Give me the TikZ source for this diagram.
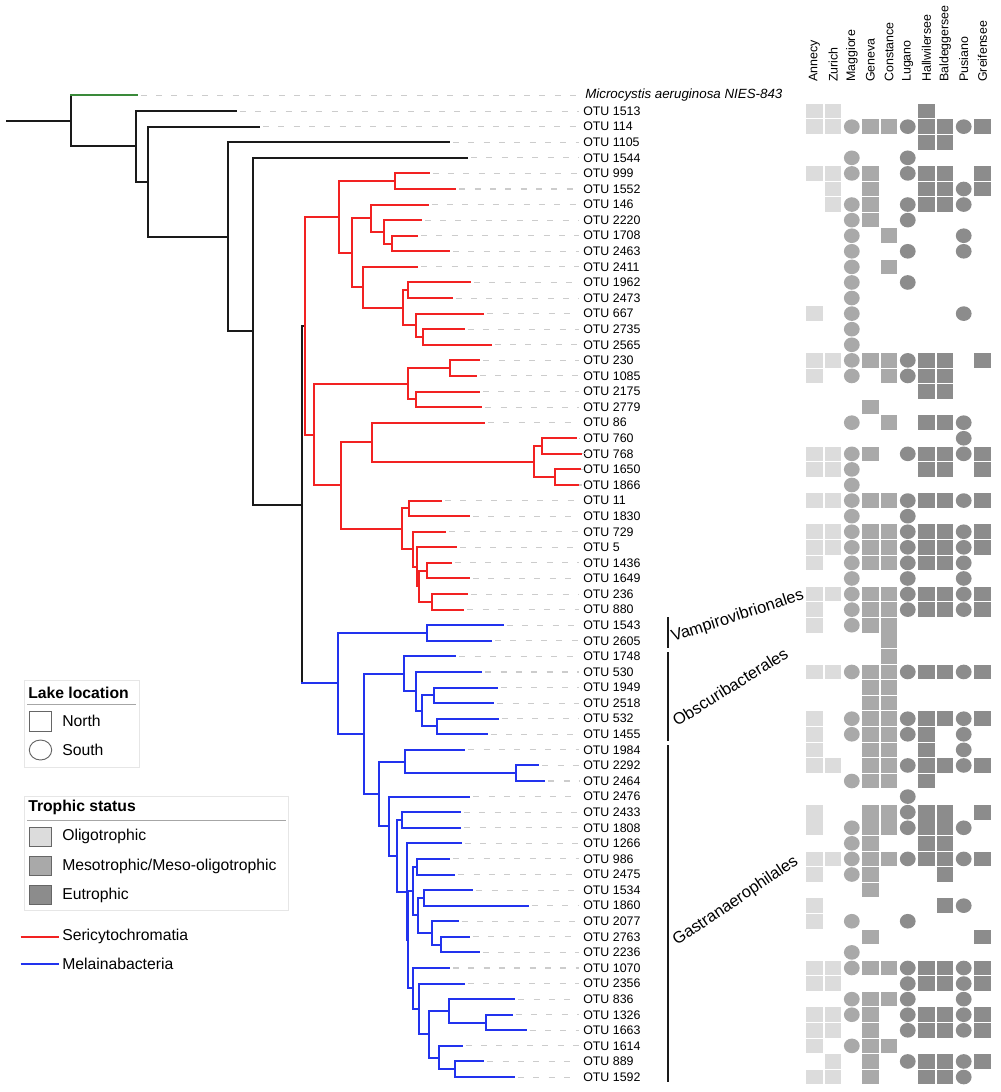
\documentclass[tikz,border=0pt]{standalone}
\usepackage{fontspec}
\setmainfont{Liberation Sans}
\definecolor{cred}{HTML}{F22222}
\definecolor{cblue}{HTML}{2233EE}
\definecolor{cgreen}{HTML}{3A8A3A}
\definecolor{cblk}{HTML}{1A1A1A}
\definecolor{clight}{HTML}{DCDCDC}
\definecolor{cmid}{HTML}{A9A9A9}
\definecolor{cdark}{HTML}{8C8C8C}
\definecolor{cdash}{HTML}{CCCCCC}
\definecolor{cframe}{HTML}{E6E6E6}
\tikzset{
  br/.style={line width=1.5pt, line cap=rect},
  dsh/.style={cdash, line width=0.8pt, dash pattern=on 4.5pt off 7pt},
  lab/.style={anchor=west, inner sep=0pt, font=\fontsize{9.3}{11}\selectfont},
  hdr/.style={rotate=90, anchor=west, inner sep=0pt, font=\fontsize{9.3}{11}\selectfont},
  leg/.style={anchor=west, inner sep=0pt, font=\fontsize{11.8}{14}\selectfont},
  legt/.style={anchor=west, inner sep=0pt, font=\fontsize{11.8}{14}\selectfont\bfseries},
  cladetxt/.style={anchor=base west, inner sep=0pt, font=\fontsize{12.3}{15}\selectfont},
  cladebar/.style={line width=1.7pt, cblk},
}
% parent colour, parent, child1, colour1, child2, colour2
\newcommand\cla[6]{%
  \draw[br,#1] (#2 |- #3) -- (#2 |- #5);
  \draw[br,#4] (#2 |- #3) -- (#3);
  \draw[br,#6] (#2 |- #5) -- (#5);
}
\newcommand\mysq[2]{\fill[#1] (\mx-8.3,#2-0.47) rectangle (\mx+8.3,#2+0.47);}
\newcommand\myci[2]{\fill[#1] (\mx,#2) ellipse [x radius=7.9, y radius=0.47];}
\newcommand\mcell[2]{%
  \pgfmathsetmacro\mx{814.5+18.65*#1}%
  \ifcase#1 \mysq{clight}{#2}\or \mysq{clight}{#2}\or \myci{cmid}{#2}\or \mysq{cmid}{#2}\or \mysq{cmid}{#2}\or \myci{cdark}{#2}\or \mysq{cdark}{#2}\or \mysq{cdark}{#2}\or \myci{cdark}{#2}\or \mysq{cdark}{#2}\fi
}
\begin{document}
\begin{tikzpicture}[x=0.75pt, y=-11.685pt]
% ---- px scope: bounding box, header, legend
\begin{scope}[yshift=71.625pt, y=-0.75pt]
  \useasboundingbox (0,0) rectangle (1000,1092);
  \foreach \xx/\nm in {814.5/Annecy, 833.15/Zurich, 851.8/Maggiore, 870.45/Geneva, 889.1/Constance, 907.75/Lugano, 926.4/Hallwilersee, 945.05/Baldeggersee, 963.7/Pusiano, 982.35/Greifensee}
    \node[hdr] (h\nm) at (\xx,82) {\nm};
  % legend: lake location
  \draw[cframe, line width=0.6pt] (24,680) rectangle (139,767);
  \node[legt] (lt1) at (28,692.7) {Lake location};
  \draw[gray!70, line width=0.8pt] (27,704.3) -- (136,704.3);
  \draw[gray!80!black, line width=0.7pt] (29.3,711) rectangle (51.7,731);
  \node[leg] (ln) at (62,721) {North};
  \draw[gray!80!black, line width=0.7pt] (40.5,750) ellipse [x radius=11.2, y radius=10];
  \node[leg] (ls) at (62,750) {South};
  % legend: trophic status
  \draw[cframe, line width=0.6pt] (24,796.7) rectangle (288,910.7);
  \node[legt] (lt2) at (28,807.7) {Trophic status};
  \draw[gray!70, line width=0.8pt] (27,820.7) -- (285.7,820.7);
  \filldraw[fill=clight, draw=gray!80!black, line width=0.7pt] (29.3,827) rectangle (51.7,846.7);
  \filldraw[fill=cmid, draw=gray!80!black, line width=0.7pt] (29.3,856) rectangle (51.7,875.7);
  \filldraw[fill=cdark, draw=gray!80!black, line width=0.7pt] (29.3,885) rectangle (51.7,904.5);
  \node[leg] (lo) at (62,836.7) {Oligotrophic};
  \node[leg] (lm) at (62,866) {Mesotrophic/Meso-oligotrophic};
  \node[leg] (le) at (62,895) {Eutrophic};
  \draw[cred, line width=1.6pt] (20.7,936.7) -- (59.3,936.7);
  \node[leg] (lsr) at (62,936.7) {Sericytochromatia};
  \draw[cblue, line width=1.6pt] (20.7,964.3) -- (59.3,964.3);
  \node[leg] (lml) at (62,964.3) {Melainabacteria};
  % clade labels
  \draw[cladebar] (668,617) -- (668,648);
  \draw[cladebar] (668,652) -- (668,741);
  \draw[cladebar] (668,745) -- (668,1082);
  \node[cladetxt, rotate=18] (cv) at (673,642) {Vampirovibrionales};
  \node[cladetxt, rotate=32] (co) at (677,727) {Obscuribacterales};
  \node[cladetxt, rotate=34] (cg) at (677,946) {Gastranaerophilales};
\end{scope}

% ---- tree leaves (tip x, row)
\foreach \i/\tx in {0/136.8,1/235.7,2/259,3/449,4/467,5/428.6,6/455.4,7/427.5,8/420.7,9/417,10/449,11/417,12/470,13/451.8,14/483.2,15/463.6,16/490.7,17/479.3,18/476,19/479,20/481.3,21/484,22/576,23/581,24/580,25/578,26/441,27/469,28/445,29/455.7,30/450.7,31/469,32/466.7,33/463.3,34/502.7,35/491,36/455.3,37/481.3,38/496.7,39/493.3,40/497.7,41/486.7,42/464.3,43/538.3,44/544.3,45/469.3,46/460,47/460.3,48/461,49/449,50/454.3,51/472.3,52/527.7,53/457.7,54/468.7,55/479,56/449,57/463.7,58/514.3,59/511.7,60/525.7,61/461.7,62/483.3,63/514}
  \coordinate (l\i) at (\tx,\i);

% ---- internal nodes (x, row)
\coordinate (root) at (7,1.6331);
\coordinate (R0) at (71,1.6331);
\coordinate (N1) at (136,3.2662);
\coordinate (N2) at (148,5.5324);
\coordinate (N3) at (227.5,9.0648);
\coordinate (N4) at (253,15.1296);
\coordinate (N5) at (301.7,26.2593);
\coordinate (RR) at (305.4,14.78125);
\coordinate (A) at (338.6,7.796875);
\coordinate (A1) at (394.6,5.5);
\coordinate (A2) at (351.8,10.09375);
\coordinate (A21) at (371.4,7.875);
\coordinate (A211) at (384,8.75);
\coordinate (A2111) at (392,9.5);
\coordinate (A22) at (363.2,12.3125);
\coordinate (A221) at (402.9,13.625);
\coordinate (A2211) at (408.2,12.5);
\coordinate (A2212) at (416.4,14.75);
\coordinate (A22121) at (422.5,15.5);
\coordinate (B) at (314,21.765625);
\coordinate (B1) at (408,18.5);
\coordinate (B11) at (450.3,17.5);
\coordinate (B12) at (416,19.5);
\coordinate (B2) at (341,25.03125);
\coordinate (B21) at (372,22.25);
\coordinate (B211) at (534.3,23.5);
\coordinate (B2111) at (542.3,22.5);
\coordinate (B2112) at (554.7,24.5);
\coordinate (B22) at (402,27.8125);
\coordinate (B221) at (408.7,26.5);
\coordinate (B222) at (413.3,29.125);
\coordinate (B2221) at (417.3,30.25);
\coordinate (B22211) at (419.3,31.5);
\coordinate (B222111) at (426.7,30.5);
\coordinate (B222112) at (431.7,32.5);
\coordinate (BR) at (338.3,37.7373);
\coordinate (C1) at (427.3,34.5);
\coordinate (C2) at (364,40.9746);
\coordinate (C21) at (404.3,37.125);
\coordinate (C211) at (416,38.25);
\coordinate (C2111) at (422.3,39.5);
\coordinate (C21111) at (434,38.5);
\coordinate (C21112) at (436.7,40.5);
\coordinate (C22) at (379.3,44.8242);
\coordinate (C221) at (405.3,42.75);
\coordinate (C2211) at (516,43.5);
\coordinate (C222) at (388.7,46.8984);
\coordinate (C2222) at (396.7,48.7969);
\coordinate (C22221) at (401.7,46.5);
\coordinate (G) at (406.7,51.0938);
\coordinate (H) at (408.3,54.1875);
\coordinate (D) at (412.7,51.0625);
\coordinate (D1) at (416.7,49.5);
\coordinate (D12) at (418.3,52.625);
\coordinate (D2) at (424,51.5);
\coordinate (E) at (432.3,53.75);
\coordinate (E1) at (440.7,54.5);
\coordinate (F) at (413.3,57.3125);
\coordinate (F1) at (419.3,58.625);
\coordinate (F2) at (429,60.25);
\coordinate (F21) at (449,58.75);
\coordinate (F211) at (486,59.5);
\coordinate (F22) at (439,61.75);
\coordinate (F221) at (455,62.5);

% ---- leaf labels and dashed guides
\node[lab, font=\fontsize{10}{12}\selectfont\itshape] (t0) at (585,0) {Microcystis aeruginosa NIES-843};
\foreach \i/\t in {1/1513,2/114,3/1105,4/1544,5/999,6/1552,7/146,8/2220,9/1708,10/2463,11/2411,12/1962,13/2473,14/667,15/2735,16/2565,17/230,18/1085,19/2175,20/2779,21/86,22/760,23/768,24/1650,25/1866,26/11,27/1830,28/729,29/5,30/1436,31/1649,32/236,33/880,34/1543,35/2605,36/1748,37/530,38/1949,39/2518,40/532,41/1455,42/1984,43/2292,44/2464,45/2476,46/2433,47/1808,48/1266,49/986,50/2475,51/1534,52/1860,53/2077,54/2763,55/2236,56/1070,57/2356,58/836,59/1326,60/1663,61/1614,62/889,63/1592}
  \node[lab] (t\i) at (583,\i) {OTU \t};
\foreach \i in {0,...,63}
  \draw[dsh] ([xshift=3pt]l\i) -- ([xshift=-3pt]t\i.west);

% ---- branches
\draw[br,cblk] (root) -- (R0);
\cla{cblk}{R0}{l0}{cgreen}{N1}{cblk}
\cla{cblk}{N1}{l1}{cblk}{N2}{cblk}
\cla{cblk}{N2}{l2}{cblk}{N3}{cblk}
\cla{cblk}{N3}{l3}{cblk}{N4}{cblk}
\cla{cblk}{N4}{l4}{cblk}{N5}{cblk}
\cla{cblk}{N5}{RR}{cblk}{BR}{cblue}
\cla{cred}{RR}{A}{cred}{B}{cred}
\cla{cred}{A}{A1}{cred}{A2}{cred}
\cla{cred}{A1}{l5}{cred}{l6}{cred}
\cla{cred}{A2}{A21}{cred}{A22}{cred}
\cla{cred}{A21}{l7}{cred}{A211}{cred}
\cla{cred}{A211}{l8}{cred}{A2111}{cred}
\cla{cred}{A2111}{l9}{cred}{l10}{cred}
\cla{cred}{A22}{l11}{cred}{A221}{cred}
\cla{cred}{A221}{A2211}{cred}{A2212}{cred}
\cla{cred}{A2211}{l12}{cred}{l13}{cred}
\cla{cred}{A2212}{l14}{cred}{A22121}{cred}
\cla{cred}{A22121}{l15}{cred}{l16}{cred}
\cla{cred}{B}{B1}{cred}{B2}{cred}
\cla{cred}{B1}{B11}{cred}{B12}{cred}
\cla{cred}{B11}{l17}{cred}{l18}{cred}
\cla{cred}{B12}{l19}{cred}{l20}{cred}
\cla{cred}{B2}{B21}{cred}{B22}{cred}
\cla{cred}{B21}{l21}{cred}{B211}{cred}
\cla{cred}{B211}{B2111}{cred}{B2112}{cred}
\cla{cred}{B2111}{l22}{cred}{l23}{cred}
\cla{cred}{B2112}{l24}{cred}{l25}{cred}
\cla{cred}{B22}{B221}{cred}{B222}{cred}
\cla{cred}{B221}{l26}{cred}{l27}{cred}
\cla{cred}{B222}{l28}{cred}{B2221}{cred}
\cla{cred}{B2221}{l29}{cred}{B22211}{cred}
\cla{cred}{B22211}{B222111}{cred}{B222112}{cred}
\cla{cred}{B222111}{l30}{cred}{l31}{cred}
\cla{cred}{B222112}{l32}{cred}{l33}{cred}
\cla{cblue}{BR}{C1}{cblue}{C2}{cblue}
\cla{cblue}{C1}{l34}{cblue}{l35}{cblue}
\cla{cblue}{C2}{C21}{cblue}{C22}{cblue}
\cla{cblue}{C21}{l36}{cblue}{C211}{cblue}
\cla{cblue}{C211}{l37}{cblue}{C2111}{cblue}
\cla{cblue}{C2111}{C21111}{cblue}{C21112}{cblue}
\cla{cblue}{C21111}{l38}{cblue}{l39}{cblue}
\cla{cblue}{C21112}{l40}{cblue}{l41}{cblue}
\cla{cblue}{C22}{C221}{cblue}{C222}{cblue}
\cla{cblue}{C221}{l42}{cblue}{C2211}{cblue}
\cla{cblue}{C2211}{l43}{cblue}{l44}{cblue}
\cla{cblue}{C222}{l45}{cblue}{C2222}{cblue}
\cla{cblue}{C2222}{C22221}{cblue}{G}{cblue}
\cla{cblue}{C22221}{l46}{cblue}{l47}{cblue}
\cla{cblue}{G}{l48}{cblue}{H}{cblue}
\cla{cblue}{H}{D}{cblue}{F}{cblue}
\cla{cblue}{D}{D1}{cblue}{D12}{cblue}
\cla{cblue}{D1}{l49}{cblue}{l50}{cblue}
\cla{cblue}{D12}{D2}{cblue}{E}{cblue}
\cla{cblue}{D2}{l51}{cblue}{l52}{cblue}
\cla{cblue}{E}{l53}{cblue}{E1}{cblue}
\cla{cblue}{E1}{l54}{cblue}{l55}{cblue}
\cla{cblue}{F}{l56}{cblue}{F1}{cblue}
\cla{cblue}{F1}{l57}{cblue}{F2}{cblue}
\cla{cblue}{F2}{F21}{cblue}{F22}{cblue}
\cla{cblue}{F21}{l58}{cblue}{F211}{cblue}
\cla{cblue}{F211}{l59}{cblue}{l60}{cblue}
\cla{cblue}{F22}{l61}{cblue}{F221}{cblue}
\cla{cblue}{F221}{l62}{cblue}{l63}{cblue}

% ---- presence matrix
\foreach \r/\cl in {1/{0,1,6},2/{0,1,2,3,4,5,6,7,8,9},3/{6,7},4/{2,5},5/{0,1,2,3,5,6,7,9},6/{1,3,6,7,8,9},7/{1,2,3,5,6,7,8},8/{2,3,5},9/{2,4,8},10/{2,5,8},11/{2,4},12/{2,5},13/{2},14/{0,2,8},15/{2},16/{2},17/{0,1,2,3,4,5,6,7,9},18/{0,2,4,5,6,7},19/{6,7},20/{3},21/{2,4,6,7,8},22/{8},23/{0,1,2,3,5,6,7,8,9},24/{0,1,2,6,7,9},25/{2},26/{0,1,2,3,4,5,6,7,8,9},27/{2,5},28/{0,1,2,3,4,5,6,7,8,9},29/{0,1,2,3,4,5,6,7,8,9},30/{0,2,3,4,5,6,7,8},31/{2,5,8},32/{0,1,2,3,4,5,6,7,8,9},33/{0,2,3,4,5,6,7,8,9},34/{0,2,3,4},35/{4},36/{4},37/{0,1,2,3,4,5,6,7,8,9},38/{3,4},39/{3,4},40/{0,2,3,4,5,6,7,8,9},41/{0,2,3,4,5,6,8},42/{0,3,4,6,8},43/{0,1,3,4,5,6,7,8,9},44/{2,3,4,6},45/{5},46/{0,3,4,5,6,7,9},47/{0,2,3,4,5,6,7,8},48/{2,3,6,7},49/{0,1,2,3,4,5,6,7,8,9},50/{0,2,3,7},51/{3},52/{0,7,8},53/{0,2,5},54/{3,9},55/{2},56/{0,1,2,3,4,5,6,7,8,9},57/{0,1,5,6,7,8,9},58/{2,3,4,5,8},59/{0,1,2,3,5,6,7,8,9},60/{0,1,3,5,6,7,8,9},61/{0,2,3,4},62/{1,3,5,6,7,8,9},63/{0,1,3,6,7,8}}
  {\foreach \c in \cl {\mcell{\c}{\r}}}
\end{tikzpicture}
\end{document}
